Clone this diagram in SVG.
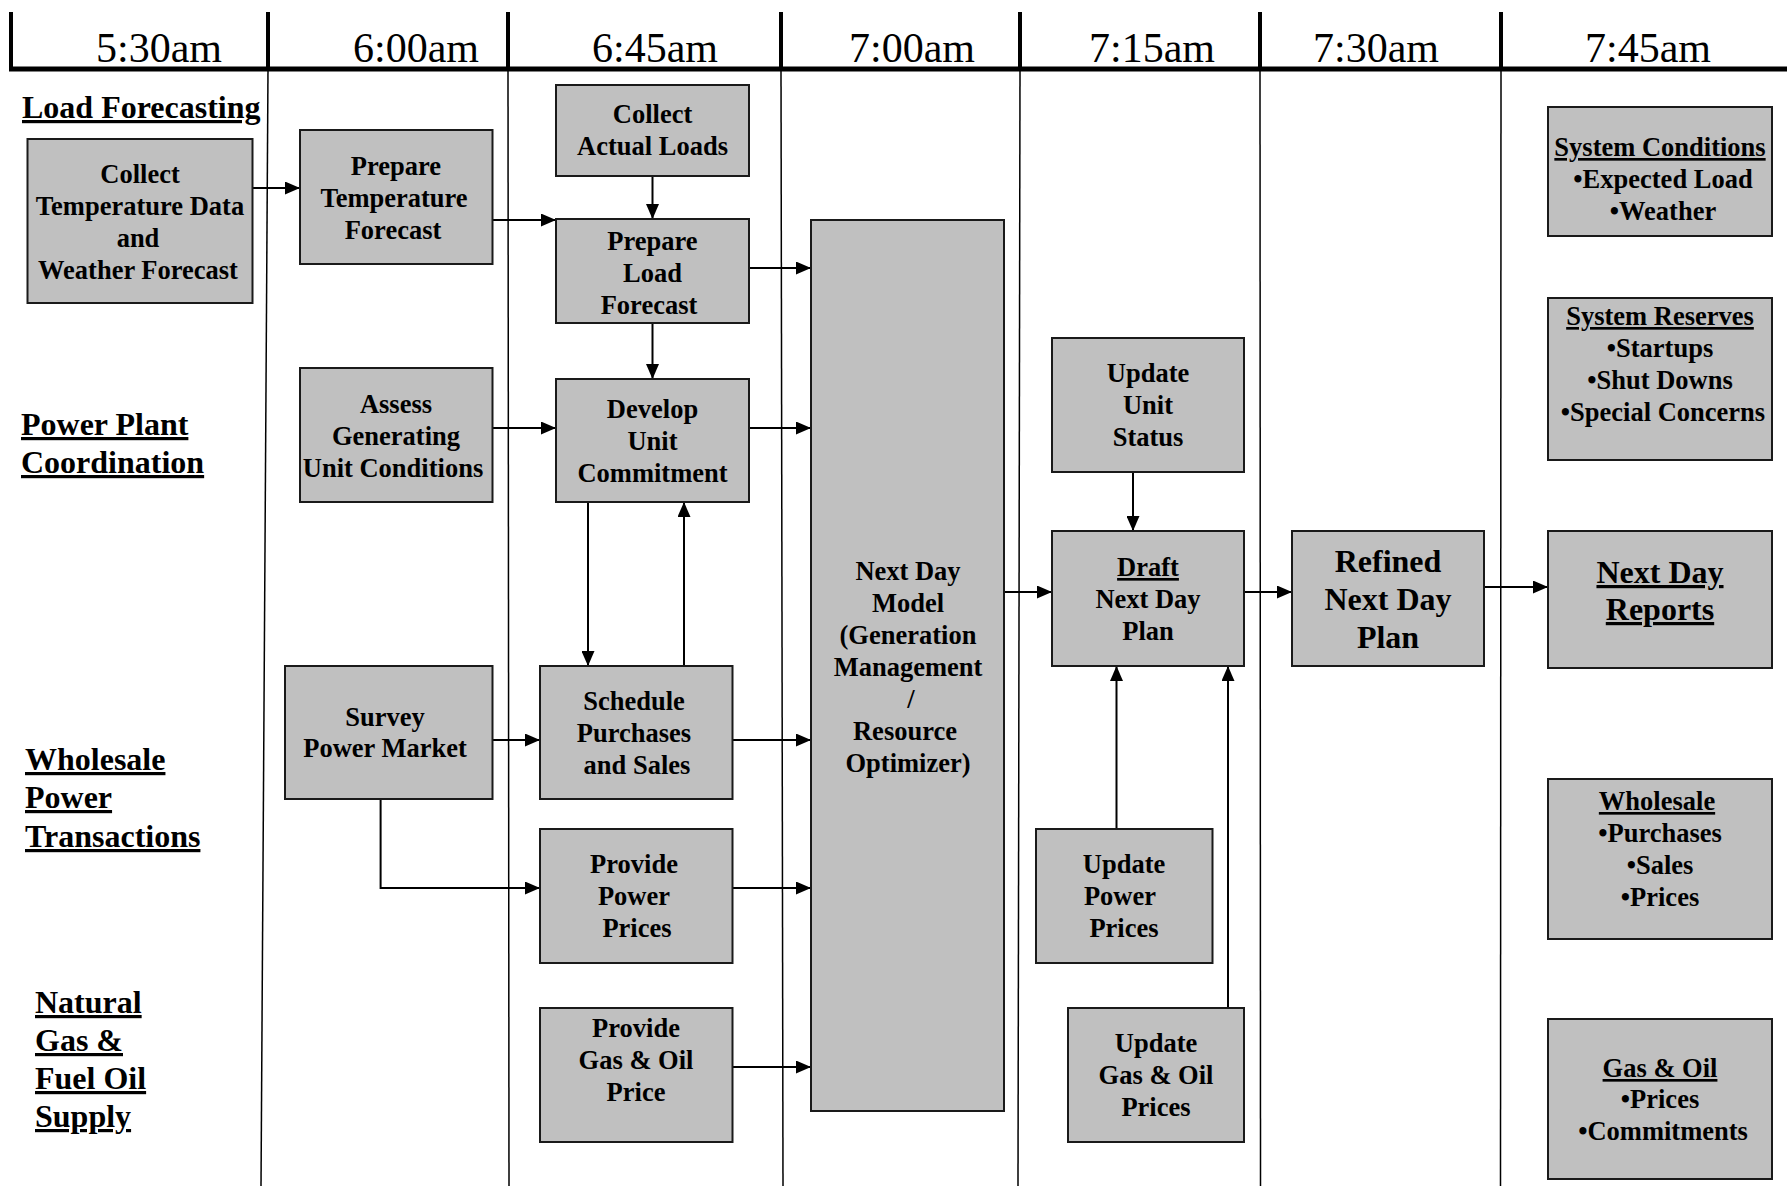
<svg xmlns="http://www.w3.org/2000/svg" width="1787" height="1186" viewBox="0 0 1787 1186">
<style>
.bg{fill:#ffffff}
.box{fill:#c0c0c0;stroke:#1a1a1a;stroke-width:2}
.t{font-family:"Liberation Serif","Times New Roman",serif;font-weight:bold;font-size:26.5px;text-anchor:middle;fill:#000}
.big{font-size:32px}
.hd{font-family:"Liberation Serif","Times New Roman",serif;font-weight:normal;font-size:42px;text-anchor:middle;fill:#000}
.lane{font-family:"Liberation Serif","Times New Roman",serif;font-weight:bold;font-size:32px;fill:#000;text-decoration:underline}
.u{text-decoration:underline}
.hv{stroke:#000;stroke-width:4;fill:none}
.grid{stroke:#000;stroke-width:1.5;fill:none}
.c{stroke:#000;stroke-width:2;fill:none;marker-end:url(#ah)}
</style>
<defs>
<marker id="ah" viewBox="0 0 15 13" refX="15" refY="6.5" markerWidth="15" markerHeight="13" markerUnits="userSpaceOnUse" orient="auto">
<path d="M0,0 L15,6.5 L0,13 Z" fill="#000"/>
</marker>
</defs>
<rect class="bg" x="0" y="0" width="1787" height="1186"/>

<g id="grid">
<line class="hv" x1="11" y1="12" x2="11" y2="69"/>
<line class="hv" x1="268" y1="12" x2="268" y2="69"/>
<line class="hv" x1="508" y1="12" x2="508" y2="69"/>
<line class="hv" x1="781" y1="12" x2="781" y2="69"/>
<line class="hv" x1="1020" y1="12" x2="1020" y2="69"/>
<line class="hv" x1="1260" y1="12" x2="1260" y2="69"/>
<line class="hv" x1="1501" y1="12" x2="1501" y2="69"/>
<line x1="9" y1="69" x2="1787" y2="69" stroke="#000" stroke-width="5"/>
<line class="grid" x1="268" y1="69" x2="261" y2="1186"/>
<line class="grid" x1="508" y1="69" x2="509" y2="1186"/>
<line class="grid" x1="781" y1="69" x2="783" y2="1186"/>
<line class="grid" x1="1020" y1="69" x2="1018" y2="1186"/>
<line class="grid" x1="1260" y1="69" x2="1260.5" y2="1186"/>
<line class="grid" x1="1501" y1="69" x2="1500.5" y2="1186"/>
<text class="hd" x="159" y="62">5:30am</text>
<text class="hd" x="416" y="62">6:00am</text>
<text class="hd" x="655" y="62">6:45am</text>
<text class="hd" x="912" y="62">7:00am</text>
<text class="hd" x="1152" y="62">7:15am</text>
<text class="hd" x="1376" y="62">7:30am</text>
<text class="hd" x="1648" y="62">7:45am</text>
</g>

<g id="lanes">
<text class="lane" x="22" y="118">Load Forecasting</text>
<text class="lane" x="21" y="435">Power Plant</text>
<text class="lane" x="21" y="473">Coordination</text>
<text class="lane" x="25" y="770">Wholesale</text>
<text class="lane" x="25" y="808">Power</text>
<text class="lane" x="25" y="847">Transactions</text>
<text class="lane" x="35" y="1013">Natural</text>
<text class="lane" x="35" y="1051">Gas &amp;</text>
<text class="lane" x="35" y="1089">Fuel Oil</text>
<text class="lane" x="35" y="1127">Supply</text>
</g>

<g id="connectors">
<line class="c" x1="252.6" y1="188" x2="300" y2="188"/>
<line class="c" x1="492.5" y1="220" x2="556" y2="220"/>
<line class="c" x1="652.5" y1="176" x2="652.5" y2="219"/>
<line class="c" x1="749" y1="268" x2="811" y2="268"/>
<line class="c" x1="652.5" y1="323" x2="652.5" y2="379"/>
<line class="c" x1="492.5" y1="428" x2="556" y2="428"/>
<line class="c" x1="749" y1="428" x2="811" y2="428"/>
<line class="c" x1="588" y1="502" x2="588" y2="666"/>
<line class="c" x1="684" y1="666" x2="684" y2="502"/>
<line class="c" x1="492.5" y1="740" x2="540" y2="740"/>
<line class="c" x1="732.5" y1="740" x2="811" y2="740"/>
<polyline class="c" points="380.6,799 380.6,888 540,888"/>
<line class="c" x1="732.5" y1="888" x2="811" y2="888"/>
<line class="c" x1="732.5" y1="1067" x2="811" y2="1067"/>
<line class="c" x1="1004" y1="592" x2="1052" y2="592"/>
<line class="c" x1="1133" y1="472" x2="1133" y2="531"/>
<line class="c" x1="1116.5" y1="829" x2="1116.5" y2="666"/>
<line class="c" x1="1228" y1="1008" x2="1228" y2="666"/>
<line class="c" x1="1244" y1="592" x2="1292" y2="592"/>
<line class="c" x1="1484" y1="587" x2="1548" y2="587"/>
</g>

<g id="collect-temp">
<rect class="box" x="27.5" y="139" width="225" height="164"/>
<text class="t" x="140" y="183">Collect</text>
<text class="t" x="140" y="215">Temperature Data</text>
<text class="t" x="138" y="247">and</text>
<text class="t" x="138" y="279">Weather Forecast</text>
</g>
<g id="prepare-temp">
<rect class="box" x="300" y="130" width="192.5" height="134"/>
<text class="t" x="396" y="175">Prepare</text>
<text class="t" x="394" y="207">Temperature</text>
<text class="t" x="393" y="239">Forecast</text>
</g>
<g id="collect-actual">
<rect class="box" x="556" y="85" width="193" height="91"/>
<text class="t" x="652.5" y="123">Collect</text>
<text class="t" x="652.5" y="155">Actual Loads</text>
</g>
<g id="prepare-load">
<rect class="box" x="556" y="219" width="193" height="104"/>
<text class="t" x="652.5" y="250">Prepare</text>
<text class="t" x="652.5" y="282">Load</text>
<text class="t" x="649" y="314">Forecast</text>
</g>
<g id="assess">
<rect class="box" x="300" y="368" width="192.5" height="134"/>
<text class="t" x="396" y="413">Assess</text>
<text class="t" x="396" y="445">Generating</text>
<text class="t" x="393" y="477">Unit Conditions</text>
</g>
<g id="develop">
<rect class="box" x="556" y="379" width="193" height="123"/>
<text class="t" x="652.5" y="418">Develop</text>
<text class="t" x="652.5" y="450">Unit</text>
<text class="t" x="652.5" y="482">Commitment</text>
</g>
<g id="survey">
<rect class="box" x="285" y="666" width="207.5" height="133"/>
<text class="t" x="385" y="726">Survey</text>
<text class="t" x="385" y="757">Power Market</text>
</g>
<g id="schedule">
<rect class="box" x="540" y="666" width="192.5" height="133"/>
<text class="t" x="634" y="710">Schedule</text>
<text class="t" x="634" y="742">Purchases</text>
<text class="t" x="637" y="774">and Sales</text>
</g>
<g id="provide-power">
<rect class="box" x="540" y="829" width="192.5" height="134"/>
<text class="t" x="634" y="873">Provide</text>
<text class="t" x="634" y="905">Power</text>
<text class="t" x="637" y="937">Prices</text>
</g>
<g id="provide-gas">
<rect class="box" x="540" y="1008" width="192.5" height="134"/>
<text class="t" x="636" y="1037">Provide</text>
<text class="t" x="636" y="1069">Gas &amp; Oil</text>
<text class="t" x="636" y="1101">Price</text>
</g>
<g id="next-day-model">
<rect class="box" x="811" y="220" width="193" height="891"/>
<text class="t" x="908" y="580">Next Day</text>
<text class="t" x="908" y="612">Model</text>
<text class="t" x="908" y="644">(Generation</text>
<text class="t" x="908" y="676">Management</text>
<text class="t" x="911" y="708">/</text>
<text class="t" x="905" y="740">Resource</text>
<text class="t" x="908" y="772">Optimizer)</text>
</g>
<g id="update-unit">
<rect class="box" x="1052" y="338" width="192" height="134"/>
<text class="t" x="1148" y="382">Update</text>
<text class="t" x="1148" y="414">Unit</text>
<text class="t" x="1148" y="446">Status</text>
</g>
<g id="draft">
<rect class="box" x="1052" y="531" width="192" height="135"/>
<text class="t u" x="1148" y="576">Draft</text>
<text class="t" x="1148" y="608">Next Day</text>
<text class="t" x="1148" y="640">Plan</text>
</g>
<g id="update-power">
<rect class="box" x="1036" y="829" width="176.5" height="134"/>
<text class="t" x="1124" y="873">Update</text>
<text class="t" x="1120" y="905">Power</text>
<text class="t" x="1124" y="937">Prices</text>
</g>
<g id="update-gas">
<rect class="box" x="1068" y="1008" width="176" height="134"/>
<text class="t" x="1156" y="1052">Update</text>
<text class="t" x="1156" y="1084">Gas &amp; Oil</text>
<text class="t" x="1156" y="1116">Prices</text>
</g>
<g id="refined">
<rect class="box" x="1292" y="531" width="192" height="135"/>
<text class="t big" x="1388" y="572">Refined</text>
<text class="t big" x="1388" y="610">Next Day</text>
<text class="t big" x="1388" y="648">Plan</text>
</g>
<g id="system-conditions">
<rect class="box" x="1548" y="107" width="224" height="129"/>
<text class="t u" x="1660" y="156">System Conditions</text>
<text class="t" x="1663" y="188">•Expected Load</text>
<text class="t" x="1663" y="220">•Weather</text>
</g>
<g id="system-reserves">
<rect class="box" x="1548" y="298" width="224" height="162"/>
<text class="t u" x="1660" y="325">System Reserves</text>
<text class="t" x="1660" y="357">•Startups</text>
<text class="t" x="1660" y="389">•Shut Downs</text>
<text class="t" x="1663" y="421">•Special Concerns</text>
</g>
<g id="next-day-reports">
<rect class="box" x="1548" y="531" width="224" height="137"/>
<text class="t big u" x="1660" y="583">Next Day</text>
<text class="t big u" x="1660" y="620">Reports</text>
</g>
<g id="wholesale">
<rect class="box" x="1548" y="779" width="224" height="160"/>
<text class="t u" x="1657" y="810">Wholesale</text>
<text class="t" x="1660" y="842">•Purchases</text>
<text class="t" x="1660" y="874">•Sales</text>
<text class="t" x="1660" y="906">•Prices</text>
</g>
<g id="gas-oil">
<rect class="box" x="1548" y="1019" width="224" height="160"/>
<text class="t u" x="1660" y="1077">Gas &amp; Oil</text>
<text class="t" x="1660" y="1108">•Prices</text>
<text class="t" x="1663" y="1140">•Commitments</text>
</g>
</svg>
